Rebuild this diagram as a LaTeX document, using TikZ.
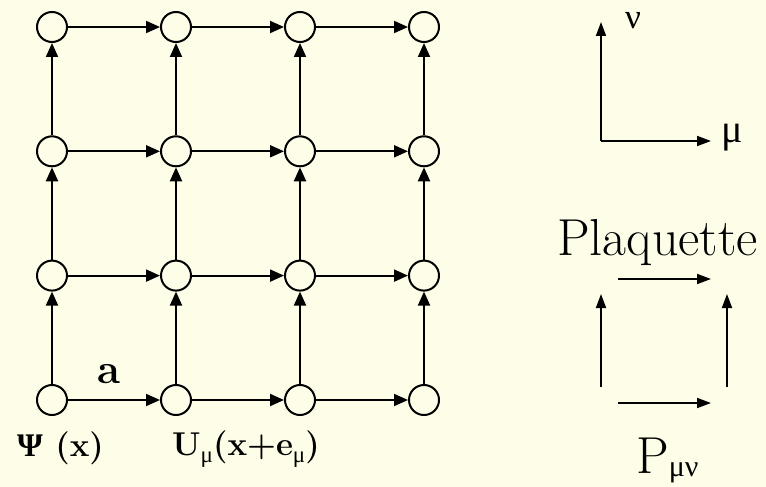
\documentclass[tikz,border=0pt]{standalone}
\usepackage{fontspec}
\newfontfamily\greekfont{Liberation Serif}
\usepackage{xcolor}
\usetikzlibrary{positioning, arrows.meta}
\definecolor{paper}{RGB}{254,254,232}

\tikzset{
  site/.style={circle, draw, line width=2pt, minimum size=30pt, inner sep=0pt},
  link/.style={-{Triangle[length=14pt,width=12pt]}, line width=2pt},
  axis/.style={-{Triangle[length=14pt,width=10pt]}, line width=1.8pt},
  label/.style={inner sep=0pt, font=\bfseries\fontsize{33}{35}\selectfont},
}
\newcommand{\submu}{\raisebox{-7pt}{\mdseries\greekfont\fontsize{23}{24}\selectfont μ}}

\begin{document}
\begin{tikzpicture}[x=1pt, y=-1pt]
    % Background
    \fill[paper] (0,0) rectangle (766,487);
    \useasboundingbox (0,0) rectangle (766,487);

    % Lattice sites (column, row), row 1 at the bottom
    \node[site] (s11) at (52,400) {};
    \node[site] (s21) at (176,400) {};
    \node[site] (s31) at (300,400) {};
    \node[site] (s41) at (424,400) {};
    \node[site] (s12) at (52,275.6) {};
    \node[site] (s22) at (176,275.6) {};
    \node[site] (s32) at (300,275.6) {};
    \node[site] (s42) at (424,275.6) {};
    \node[site] (s13) at (52,151.3) {};
    \node[site] (s23) at (176,151.3) {};
    \node[site] (s33) at (300,151.3) {};
    \node[site] (s43) at (424,151.3) {};
    \node[site] (s14) at (52,27) {};
    \node[site] (s24) at (176,27) {};
    \node[site] (s34) at (300,27) {};
    \node[site] (s44) at (424,27) {};

    % Links in the mu direction
    \draw[link] (s11) -- (s21);
    \draw[link] (s21) -- (s31);
    \draw[link] (s31) -- (s41);
    \draw[link] (s12) -- (s22);
    \draw[link] (s22) -- (s32);
    \draw[link] (s32) -- (s42);
    \draw[link] (s13) -- (s23);
    \draw[link] (s23) -- (s33);
    \draw[link] (s33) -- (s43);
    \draw[link] (s14) -- (s24);
    \draw[link] (s24) -- (s34);
    \draw[link] (s34) -- (s44);

    % Links in the nu direction
    \draw[link] (s11) -- (s12);
    \draw[link] (s12) -- (s13);
    \draw[link] (s13) -- (s14);
    \draw[link] (s21) -- (s22);
    \draw[link] (s22) -- (s23);
    \draw[link] (s23) -- (s24);
    \draw[link] (s31) -- (s32);
    \draw[link] (s32) -- (s33);
    \draw[link] (s33) -- (s34);
    \draw[link] (s41) -- (s42);
    \draw[link] (s42) -- (s43);
    \draw[link] (s43) -- (s44);

    % Lattice spacing, field and link variable
    \node[label, anchor=base, font=\bfseries\fontsize{42}{44}\selectfont] (spacing) at (109,383) {a};
    \node[label, anchor=base west] (field) at (17,456) {{\greekfont Ψ} (x)};
    \node[label, anchor=base west] (linkvar) at (172,455) {U\submu(x+e\submu)};

    % Directions
    \coordinate (origin) at (601,141);
    \coordinate (nuend) at (601,22);
    \coordinate (muend) at (711,141);
    \draw[axis] (origin) -- (nuend);
    \draw[axis] (origin) -- (muend);
    \node[inner sep=0pt, anchor=base, font=\greekfont\fontsize{35}{37}\selectfont] (nu) at (633,29) {ν};
    \node[inner sep=0pt, anchor=base west, font=\greekfont\fontsize{40}{42}\selectfont] (mu) at (721,142) {μ};

    % Plaquette
    \node[inner sep=0pt, anchor=base, font=\fontsize{52}{54}\selectfont] (plaq) at (657.5,255) {Plaquette};
    \coordinate (pa) at (618,279);
    \coordinate (pb) at (711,279);
    \coordinate (pc) at (618,403);
    \coordinate (pd) at (711,403);
    \coordinate (pe) at (601,387);
    \coordinate (pf) at (601,294);
    \coordinate (pg) at (727,387);
    \coordinate (ph) at (727,294);
    \draw[axis] (pa) -- (pb);
    \draw[axis] (pc) -- (pd);
    \draw[axis] (pe) -- (pf);
    \draw[axis] (pg) -- (ph);
    \node[inner sep=0pt, anchor=base west, font=\fontsize{52}{54}\selectfont] (pmunu) at (636,473)
        {P\raisebox{-3pt}{\greekfont\fontsize{30}{32}\selectfont μν}};

\end{tikzpicture}
\end{document}
